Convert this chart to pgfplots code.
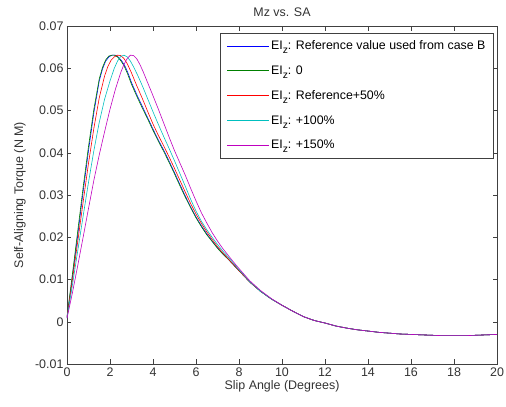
\documentclass[border=0pt]{standalone}
\usepackage{fontspec}
\setmainfont{Liberation Sans}
\usepackage{pgfplots}
\pgfplotsset{compat=1.18}

\definecolor{mblue}{rgb}{0,0,1}
\definecolor{mgreen}{rgb}{0,0.5,0}
\definecolor{mred}{rgb}{1,0,0}
\definecolor{mcyan}{rgb}{0,0.75,0.75}
\definecolor{mmag}{rgb}{0.75,0,0.75}
\definecolor{axgray}{gray}{0.25}

\newcommand{\axfont}{\fontsize{12.5}{14}\selectfont}
% EI with a lowered subscript z
\newcommand{\EIz}{EI\raisebox{-0.32em}{\fontsize{10.3}{10}\selectfont z}}

\begin{document}
\begin{tikzpicture}
\begin{axis}[
  scale only axis,
  width=430bp, height=338bp,
  xmin=0, xmax=20, ymin=-0.01, ymax=0.07,
  xtick={0,2,4,6,8,10,12,14,16,18,20},
  xticklabels={0,2,4,6,8,10,12,14,16,18,20},
  ytick={-0.01,0,0.01,0.02,0.03,0.04,0.05,0.06,0.07},
  yticklabels={-0.01,0,0.01,0.02,0.03,0.04,0.05,0.06,0.07},
  scaled y ticks=false,
  tick align=inside,
  major tick length=4.5bp,
  axis line style={draw=axgray},
  every tick/.style={draw=axgray},
  tick label style={font=\axfont, text=black!80},
  xticklabel style={inner ysep=0pt, yshift=-4bp},
  every axis x label/.style={at={(axis description cs:0.5,0)}, yshift=-22.5bp,
    anchor=center, inner sep=0pt, font=\axfont, text=black!80},
  every axis y label/.style={at={(axis description cs:0,0.5)}, xshift=-47bp,
    rotate=90, anchor=center, inner sep=0pt, font=\axfont, text=black!80},
  every axis title/.style={at={(axis description cs:0.5,1)}, yshift=14bp,
    anchor=center, font=\axfont, text=black!80},
  xlabel={Slip Angle (Degrees)},
  ylabel={Self-Aligning Torque (N M)},
  title={Mz vs. SA},
  legend cell align=left,
  legend image code/.code={\draw[#1, line width=1pt] (0bp,0bp) -- (42bp,0bp);},
  legend style={at={(0.991,0.979)}, anchor=north east, draw=axgray, fill=white,
    font=\fontsize{12.4}{13}\selectfont, row sep=12.6bp,
    inner xsep=6.3bp, inner ysep=6.5bp,
    nodes={inner xsep=1.2bp, inner ysep=1bp}},
  every axis plot/.append style={line width=0.6pt},
]
% reference stiffness
\addplot[mblue] coordinates {
 (0,0.0010)(0.25,0.0105)(0.5,0.0205)(0.75,0.0308)(1.0,0.0405)(1.25,0.0495)(1.5,0.0570)
 (1.65,0.0598)(1.8,0.0617)(1.95,0.0627)(2.1,0.0631)(2.25,0.0631)(2.4,0.0626)(2.55,0.0617)
 (2.7,0.0605)(2.85,0.0587)(3.0,0.0566)(3.25,0.0537)(3.5,0.0510)(3.75,0.0483)(4.0,0.0456)
 (4.25,0.0430)(4.5,0.0406)(4.75,0.0380)(5.0,0.0353)(5.25,0.0325)(5.5,0.0298)(5.75,0.0272)
 (6.0,0.0248)(6.25,0.0227)(6.5,0.0208)(6.75,0.0191)(7.0,0.0175)(7.25,0.0161)
 (7.5,0.0148)(8.0,0.0121)(8.5,0.0094)(9.0,0.0072)(9.5,0.0054)(10,0.0039)(10.5,0.0025)
 (11,0.0012)(11.5,0.0003)(12,-0.0003)(12.5,-0.0010)(13,-0.0015)(13.5,-0.0019)(14,-0.0022)
 (14.5,-0.0025)(15,-0.0027)(15.5,-0.0029)(16,-0.0030)(16.5,-0.0031)(17,-0.0032)
 (17.5,-0.0033)(18,-0.0033)(18.5,-0.0033)(19,-0.0032)(19.5,-0.0031)(20,-0.0030)};
\addlegendentry{\EIz: Reference value used from case B}
% zero stiffness
\addplot[mgreen] coordinates {
 (0,0.0012)(0.25,0.0112)(0.5,0.0215)(0.75,0.0318)(1.0,0.0415)(1.25,0.0503)(1.5,0.0575)
 (1.65,0.0602)(1.8,0.0620)(1.95,0.0629)(2.1,0.0631)(2.2,0.0631)(2.35,0.0627)(2.5,0.0618)
 (2.65,0.0606)(2.8,0.0589)(3.0,0.0562)(3.25,0.0533)(3.5,0.0506)(3.75,0.0480)(4.0,0.0453)
 (4.25,0.0427)(4.5,0.0403)(4.75,0.0377)(5.0,0.0350)(5.25,0.0322)(5.5,0.0295)(5.75,0.0270)
 (6.0,0.0246)(6.25,0.0225)(6.5,0.0206)(6.75,0.0190)(7.0,0.0174)(7.25,0.0160)
 (7.5,0.0148)(8.0,0.0121)(8.5,0.0094)(9.0,0.0072)(9.5,0.0054)(10,0.0039)(10.5,0.0025)
 (11,0.0012)(11.5,0.0003)(12,-0.0003)(12.5,-0.0010)(13,-0.0015)(13.5,-0.0019)(14,-0.0022)
 (14.5,-0.0025)(15,-0.0027)(15.5,-0.0029)(16,-0.0030)(16.5,-0.0031)(17,-0.0032)
 (17.5,-0.0033)(18,-0.0033)(18.5,-0.0033)(19,-0.0032)(19.5,-0.0031)(20,-0.0030)};
\addlegendentry{\EIz: 0}
% reference + 50%
\addplot[mred] coordinates {
 (0,0.0010)(0.25,0.0098)(0.5,0.0190)(0.75,0.0283)(1.0,0.0375)(1.25,0.0458)(1.5,0.0530)
 (1.75,0.0582)(1.9,0.0604)(2.05,0.0619)(2.2,0.0627)(2.35,0.0631)(2.5,0.0630)(2.65,0.0623)
 (2.8,0.0611)(3.0,0.0589)(3.25,0.0558)(3.5,0.0529)(3.75,0.0498)(4.0,0.0468)(4.25,0.0441)
 (4.5,0.0416)(4.75,0.0390)(5.0,0.0363)(5.25,0.0335)(5.5,0.0307)(5.75,0.0280)(6.0,0.0255)
 (6.25,0.0233)(6.5,0.0213)(6.75,0.0195)(7.0,0.0178)(7.25,0.0163)
 (7.5,0.0149)(8.0,0.0121)(8.5,0.0094)(9.0,0.0072)(9.5,0.0054)(10,0.0039)(10.5,0.0025)
 (11,0.0012)(11.5,0.0003)(12,-0.0003)(12.5,-0.0010)(13,-0.0015)(13.5,-0.0019)(14,-0.0022)
 (14.5,-0.0025)(15,-0.0027)(15.5,-0.0029)(16,-0.0030)(16.5,-0.0031)(17,-0.0032)
 (17.5,-0.0033)(18,-0.0033)(18.5,-0.0033)(19,-0.0032)(19.5,-0.0031)(20,-0.0030)};
\addlegendentry{\EIz: Reference+50\%}
% +100%
\addplot[mcyan] coordinates {
 (0,0.0009)(0.25,0.0086)(0.5,0.0168)(0.75,0.0250)(1.0,0.0330)(1.25,0.0405)(1.5,0.0472)
 (1.75,0.0527)(2.0,0.0570)(2.2,0.0600)(2.35,0.0617)(2.5,0.0628)(2.65,0.0631)(2.8,0.0627)
 (2.95,0.0617)(3.1,0.0603)(3.3,0.0582)(3.5,0.0559)(3.75,0.0528)(4.0,0.0497)(4.25,0.0467)
 (4.5,0.0438)(4.75,0.0410)(5.0,0.0381)(5.25,0.0351)(5.5,0.0321)(5.75,0.0290)(6.0,0.0262)
 (6.25,0.0238)(6.5,0.0218)(6.75,0.0200)(7.0,0.0183)(7.25,0.0167)(7.5,0.0153)(7.75,0.0138)
 (8.0,0.0123)(8.5,0.0095)(9.0,0.0072)(9.5,0.0054)(10,0.0039)(10.5,0.0025)
 (11,0.0012)(11.5,0.0003)(12,-0.0003)(12.5,-0.0010)(13,-0.0015)(13.5,-0.0019)(14,-0.0022)
 (14.5,-0.0025)(15,-0.0027)(15.5,-0.0029)(16,-0.0030)(16.5,-0.0031)(17,-0.0032)
 (17.5,-0.0033)(18,-0.0033)(18.5,-0.0033)(19,-0.0032)(19.5,-0.0031)(20,-0.0030)};
\addlegendentry{\EIz: +100\%}
% +150%
\addplot[mmag] coordinates {
 (0,0.0008)(0.25,0.0068)(0.5,0.0133)(0.75,0.0200)(1.0,0.0268)(1.25,0.0335)(1.5,0.0395)
 (1.75,0.0450)(2.0,0.0503)(2.25,0.0550)(2.5,0.0590)(2.65,0.0609)(2.8,0.0623)(2.95,0.0631)
 (3.1,0.0630)(3.25,0.0622)(3.4,0.0608)(3.55,0.0591)(3.75,0.0566)(4.0,0.0535)(4.25,0.0503)
 (4.5,0.0470)(4.75,0.0437)(5.0,0.0405)(5.25,0.0376)(5.5,0.0347)(5.75,0.0316)(6.0,0.0286)
 (6.25,0.0258)(6.5,0.0234)(6.75,0.0211)(7.0,0.0191)(7.25,0.0173)(7.5,0.0157)(7.75,0.0141)
 (8.0,0.0126)(8.5,0.0097)(9.0,0.0074)(9.5,0.0055)(10,0.0039)(10.5,0.0025)
 (11,0.0012)(11.5,0.0003)(12,-0.0003)(12.5,-0.0010)(13,-0.0015)(13.5,-0.0019)(14,-0.0022)
 (14.5,-0.0025)(15,-0.0027)(15.5,-0.0029)(16,-0.0030)(16.5,-0.0031)(17,-0.0032)
 (17.5,-0.0033)(18,-0.0033)(18.5,-0.0033)(19,-0.0032)(19.5,-0.0031)(20,-0.0030)};
\addlegendentry{\EIz: +150\%}
\end{axis}
\pgfresetboundingbox
\path (current axis.south west) ++(-67bp,-43bp) rectangle ++(506bp,407bp);
\end{tikzpicture}
\end{document}
